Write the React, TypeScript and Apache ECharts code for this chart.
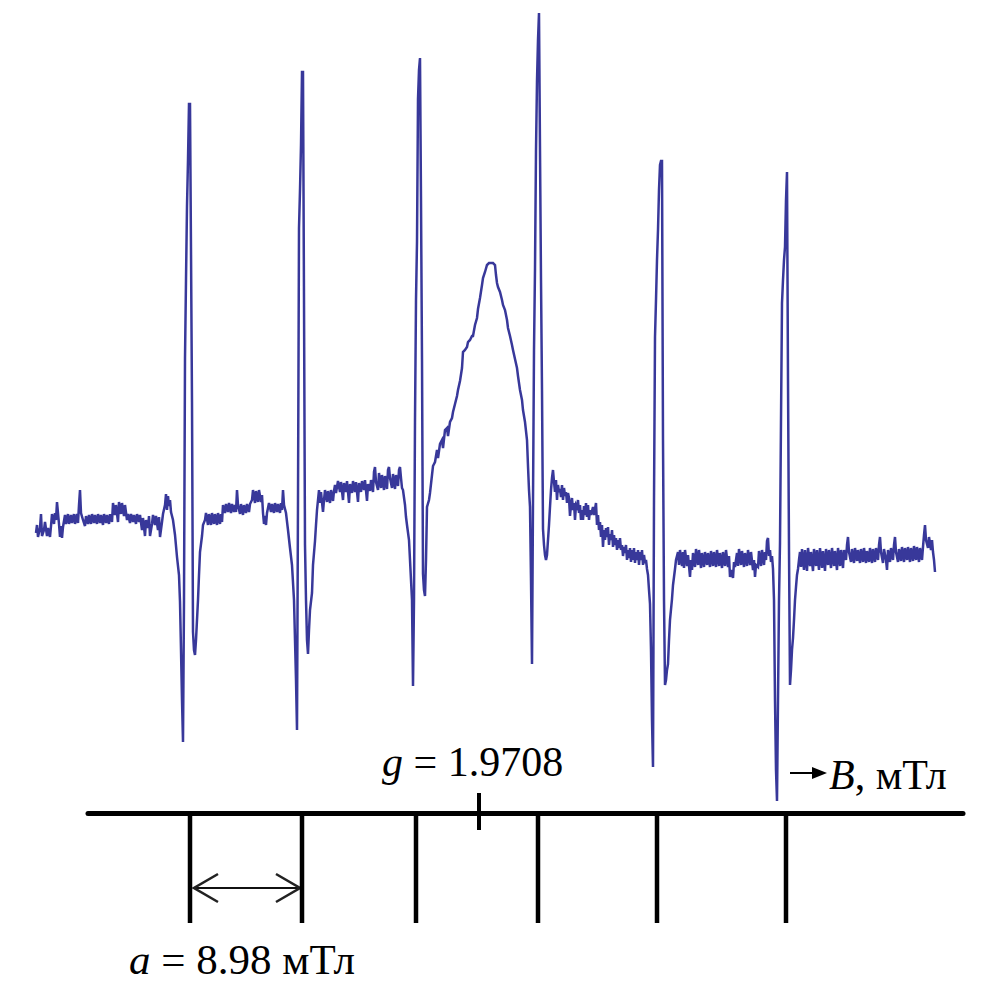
import React, { useEffect, useRef } from "react";
import * as echarts from "echarts";

// EPR trace readings: [field position (chart units), pen position (chart units, measured downward from the frame top)]
const traceLow: number[][] = [
  [36,533],[37,525],[38,537],[40,528],[41,514],[42,536],[44,530],[45,522],[47,536],[48,528],[50,537],[51,526],[52,514],[54,524],[55,513],[56,520],[57,502],[58,513],[59,524],[60,537],[61,526],[62,538],[63,527],[65,515],[66,524],[68,514],[69,524],[71,515],[72,523],[74,514],[75,524],[77,514],[78,523],[79,505],[80,490],[81,513],[83,520],[85,526],[86,516],[88,524],[89,515],[91,524],[92,514],[94,523],[95,515],[97,524],[98,514],[100,523],[101,515],[103,525],[104,514],[106,523],[107,515],[109,524],[110,514],[112,522],[113,503],[115,515],[116,505],[118,522],[119,502],[121,514],[122,503],[124,516],[125,505],[127,520],[128,514],[130,523],[131,514],[133,522],[134,515],[136,524],[137,514],[139,522],[140,515],[142,530],[143,518],[145,536],[146,520],[148,528],[149,516],[150,536],[152,524],[153,515],[155,525],[156,516],[158,530],[159,517],[160,537],[162,522],[163,514],[165,505],[166,494],[167,510],[168,496],[169,506],[170,500],[171,512],[173,520],[175,535],[177,557],[179,575],[180,602],[181,650],[182,700],[183,742],[184,600],[185,358],[186,280],[187,206],[188,160],[189,104],[190,104],[191,250],[192,402],[193,632],[194,650],[195,655],[196,640],[197,620],[198,600],[199,575],[200,552],[202,536],[203,525],
  [205,520],[206,513],[208,525],[209,514],[211,525],[212,513],[214,524],[215,514],[217,525],[218,513],[220,524],[221,514],[222,522],[223,505],[225,513],[226,504],[228,512],[229,503],[231,513],[232,504],[234,512],[235,505],[236,512],[237,490],[238,505],[240,514],[241,504],[243,515],[244,505],[246,513],[247,504],[249,512],[250,504],[252,500],[253,490],[255,503],[256,491],[258,502],[259,490],[261,502],[262,495],[263,513],[264,524],[265,516],[266,525],[267,513],[268,508],[269,503],[271,512],[272,504],[274,513],[275,503],[277,512],[278,504],[280,513],[281,503],[282,510],[283,490],[284,505],[286,513],[288,530],[290,548],[292,565],[294,600],[296,680],[297,730],[298,500],[299,228],[300,190],[301,145],[302,72],[303,72],[304,300],[305,545],[306,600],[307,640],[308,654],[309,630],[310,610],[312,593],[313,565],[315,541],[316,525],[317,510]
];

const traceMid: number[][] = [
  [318,500],[319,490],[320,503],[321,492],[323,512],[324,500],[325,490],[327,502],[328,491],[330,503],[331,490],[333,501],[334,491],[335,485],[336,493],[338,481],[340,492],[341,482],[343,500],[344,483],[346,492],[347,481],[349,503],[350,484],[352,493],[353,481],[355,492],[356,482],[358,502],[359,483],[361,492],[362,481],[364,490],[365,480],[367,501],[368,484],[370,491],[371,480],[373,492],[374,472],[375,467],[376,482],[378,490],[379,473],[381,488],[382,475],[384,490],[385,476],[387,489],[388,470],[389,467],[390,478],[392,488],[393,474],[395,489],[396,475],[398,486],[399,470],[400,467],[401,478],[402,488],[403,490],[405,505],[406,517],[407,525],[409,540],[410,560],[412,600],[413,686],[414,600],[415,420],[416,300],[417,242],[418,99],[419,70],[420,58],[421,200],[422,359],[423,574],[424,590],[425,596],[426,560],[427,507],[429,500],[430,493],[432,475],[433,466],[435,462],[437,450],[438,458],[440,444],[442,440],[443,448],[445,430],[447,428],[448,436],[450,422],[452,418],[453,412],[455,404],[457,396],[458,390],[460,381],[462,368],[463,352],[465,350],[467,347],[468,342],[470,340],[472,336],[473,336],[475,325],[477,318],[478,309],[480,298],[482,285],[483,278],[485,272],[487,265],[489,263],[491,263],[493,263],[495,265],[496,275],[497,283],[498,287],[500,292],[502,300],[503,305],[505,310],[507,320],[508,328],[510,336],[512,345],[513,350],[515,359],[517,368],[518,376],[520,390],[522,400],[523,410],[525,422],[527,440],[528,466],[529,490],[530,507],[531,580],[532,664],[533,500],[534,350],[535,269],[536,150],[537,81],[538,40],[539,13],[540,150],[541,280],[542,390],[543,529],[544,545],[545,555],[546,560],[547,555],[548,540],[549,525],[550,507],[551,490],[552,478]
];

const traceHigh: number[][] = [
  [553,470],[554,482],[555,492],[556,480],[557,500],[558,485],[559,492],[560,489],[561,497],[562,485],[563,500],[564,488],[565,496],[566,492],[567,503],[568,493],[569,498],[570,516],[571,505],[572,498],[573,510],[574,503],[575,520],[576,505],[577,507],[578,500],[579,513],[580,505],[581,520],[582,510],[583,520],[584,506],[585,515],[586,503],[587,517],[588,505],[589,520],[590,510],[591,515],[593,507],[594,515],[596,503],[597,525],[598,515],[599,530],[600,522],[601,537],[602,525],[603,547],[604,530],[605,540],[606,528],[607,537],[608,527],[609,545],[610,534],[611,540],[612,530],[613,547],[614,535],[615,545],[616,538],[617,550],[618,540],[619,548],[620,538],[621,550],[622,545],[623,556],[624,547],[625,553],[626,545],[627,560],[628,550],[629,558],[630,548],[631,562],[632,550],[633,560],[634,548],[635,563],[636,552],[637,560],[638,550],[639,565],[640,552],[641,560],[642,550],[643,565],[644,555],[645,563],[646,560],[647,569],[648,575],[649,590],[650,604],[651,650],[652,720],[653,767],[654,500],[655,337],[656,300],[657,260],[658,230],[659,190],[660,165],[661,161],[662,161],[663,440],[664,600],[665,685],[666,680],[667,670],[668,664],[669,640],[670,620],[672,599],[673,585],[675,569],[676,560],
  [678,552],[679,565],[680,550],[682,566],[683,552],[684,568],[685,550],[687,566],[688,555],[690,577],[691,560],[692,570],[693,553],[695,567],[696,549],[698,565],[699,550],[701,568],[702,553],[704,567],[705,552],[707,565],[708,553],[710,567],[711,551],[713,566],[714,552],[716,567],[717,550],[719,566],[720,553],[722,568],[723,552],[725,566],[726,550],[728,567],[729,556],[730,577],[731,570],[733,578],[734,562],[735,567],[737,553],[738,566],[739,549],[741,565],[742,551],[744,567],[745,553],[747,566],[748,550],[750,565],[751,552],[753,570],[754,560],[755,577],[756,565],[758,567],[759,551],[761,566],[762,550],[764,565],[765,552],[766,560],[767,541],[768,538],[769,556],[770,550],[771,562],[772,556],[773,569],[774,600],[775,700],[776,770],[777,801],[778,700],[779,600],[780,543],[781,420],[782,303],[783,280],[784,260],[785,247],[786,200],[787,172],[788,380],[789,550],[790,685],[791,670],[792,650],[793,638],[794,620],[795,600],[796,587],[797,575],[798,569],[799,560],
  [800,552],[801,567],[802,549],[804,570],[805,550],[807,571],[808,548],[810,566],[811,552],[813,571],[814,549],[816,566],[817,550],[819,570],[820,548],[822,568],[823,551],[825,571],[826,549],[828,565],[829,550],[831,568],[832,548],[834,566],[835,551],[837,570],[838,548],[840,566],[841,550],[843,568],[844,550],[846,560],[847,545],[848,537],[849,552],[851,562],[852,549],[854,563],[855,548],[857,561],[858,550],[860,563],[861,549],[863,562],[864,548],[866,563],[867,551],[869,562],[870,548],[872,563],[873,549],[875,562],[876,548],[878,560],[879,545],[880,537],[881,552],[883,563],[884,549],[886,560],[887,570],[888,550],[890,562],[891,548],[893,560],[894,545],[895,537],[896,552],[898,562],[899,549],[901,561],[902,547],[904,562],[905,548],[907,560],[908,547],[910,562],[911,548],[913,561],[914,546],[916,560],[917,547],[919,562],[920,548],[922,560],[923,547],[924,535],[925,525],[926,540],[928,548],[929,537],[931,550],[932,540],[933,552],[934,560],[935,572]
];

// Pen position of the zero-signal level (chart units)
const PEN_ZERO = 525;

// Stick diagram: hyperfine line positions (same field units), g-marker position
const stickFields = [190, 302, 416, 538, 657, 786];
const gField = 479;
const stickLength = 110;
const gMarkerSpan = [-20, 17];
const arrowLevel = 75;

// Labels
const gLabel = "1.9708";
const aLabel = "8.98";
const unitLabel = "мТл";

const SERIF = "Liberation Serif";

export default function App() {
  const ref = useRef<HTMLDivElement>(null);

  useEffect(() => {
    if (!ref.current) return;
    const chart = echarts.init(ref.current, null, { renderer: "svg" });

    const spectrum = [...traceLow, ...traceMid, ...traceHigh].map(([f, p]) => [f, PEN_ZERO - p]);

    const stickSeries = stickFields.map((f) => ({
      type: "line",
      xAxisIndex: 1,
      yAxisIndex: 1,
      data: [[f, 0], [f, stickLength]],
      symbol: "none",
      silent: true,
      lineStyle: { color: "#000", width: 4.5, cap: "butt" },
    }));

    const option: any = {
      animation: false,
      backgroundColor: "#fff",
      grid: [
        { left: 0, top: 0, width: 1004, height: 800 },
        { left: 88, top: 780, width: 875, height: 150 },
      ],
      xAxis: [
        { type: "value", gridIndex: 0, min: 0, max: 1004, show: false },
        {
          type: "value",
          gridIndex: 1,
          min: 88,
          max: 963,
          axisLine: { show: true, onZero: true, lineStyle: { color: "#000", width: 5 } },
          axisTick: { show: false },
          axisLabel: { show: false },
          splitLine: { show: false },
        },
      ],
      yAxis: [
        { type: "value", gridIndex: 0, min: PEN_ZERO - 800, max: PEN_ZERO, show: false },
        {
          type: "value",
          gridIndex: 1,
          min: -33,
          max: 117,
          inverse: true,
          axisLine: { show: false },
          axisTick: { show: false },
          axisLabel: { show: false },
          splitLine: { show: false },
        },
      ],
      series: [
        {
          type: "line",
          xAxisIndex: 0,
          yAxisIndex: 0,
          data: spectrum,
          symbol: "none",
          silent: true,
          lineStyle: { color: "#38389a", width: 2.5, join: "miter" },
        },
        ...stickSeries,
        {
          type: "line",
          xAxisIndex: 1,
          yAxisIndex: 1,
          data: [[gField, gMarkerSpan[0]], [gField, gMarkerSpan[1]]],
          symbol: "none",
          silent: true,
          lineStyle: { color: "#000", width: 4, cap: "butt" },
        },
        {
          type: "custom",
          xAxisIndex: 1,
          yAxisIndex: 1,
          silent: true,
          encode: { x: [0, 1], y: 2 },
          data: [[stickFields[0], stickFields[1], arrowLevel]],
          renderItem: (_params: any, api: any) => {
            const a = api.coord([api.value(0), api.value(2)]);
            const b = api.coord([api.value(1), api.value(2)]);
            const x1 = a[0] + 4;
            const x2 = b[0] - 2;
            const y = a[1];
            const w = 24;
            const h = 14;
            const st = { stroke: "#222", lineWidth: 2.6, fill: null };
            return {
              type: "group",
              children: [
                { type: "line", shape: { x1, y1: y, x2, y2: y }, style: { stroke: "#111", lineWidth: 1.8 } },
                { type: "polyline", shape: { points: [[x1 + w, y - h], [x1, y], [x1 + w, y + h]] }, style: st },
                { type: "polyline", shape: { points: [[x2 - w, y - h], [x2, y], [x2 - w, y + h]] }, style: st },
              ],
            };
          },
        },
      ],
      graphic: [
        {
          type: "text",
          x: 382,
          y: 762,
          style: {
            text: "{i|g}{n| = " + gLabel + "}",
            verticalAlign: "middle",
            align: "left",
            rich: {
              i: { fontFamily: SERIF, fontSize: 42, fontStyle: "italic", fill: "#000" },
              n: { fontFamily: SERIF, fontSize: 42, fill: "#000" },
            },
          },
        },
        {
          type: "text",
          x: 129,
          y: 959,
          style: {
            text: "{i|a}{n| = " + aLabel + " " + unitLabel + "}",
            verticalAlign: "middle",
            align: "left",
            rich: {
              i: { fontFamily: SERIF, fontSize: 43, fontStyle: "italic", fill: "#000" },
              n: { fontFamily: SERIF, fontSize: 43, fill: "#000" },
            },
          },
        },
        {
          type: "line",
          shape: { x1: 790, y1: 773, x2: 815, y2: 773 },
          style: { stroke: "#000", lineWidth: 2 },
        },
        {
          type: "polygon",
          shape: { points: [[812, 767], [827, 773], [812, 779]] },
          style: { fill: "#000" },
        },
        {
          type: "text",
          x: 829,
          y: 775,
          style: {
            text: "{i|B}{n|, " + unitLabel + "}",
            verticalAlign: "middle",
            align: "left",
            rich: {
              i: { fontFamily: SERIF, fontSize: 42, fontStyle: "italic", fill: "#000" },
              n: { fontFamily: SERIF, fontSize: 42, fill: "#000" },
            },
          },
        },
      ],
    };

    chart.setOption(option);
    return () => chart.dispose();
  }, []);

  return (
    <div
      ref={ref}
      style={{ position: "absolute", left: 0, top: 0, width: 1004, height: 1000, background: "#fff" }}
    />
  );
}
